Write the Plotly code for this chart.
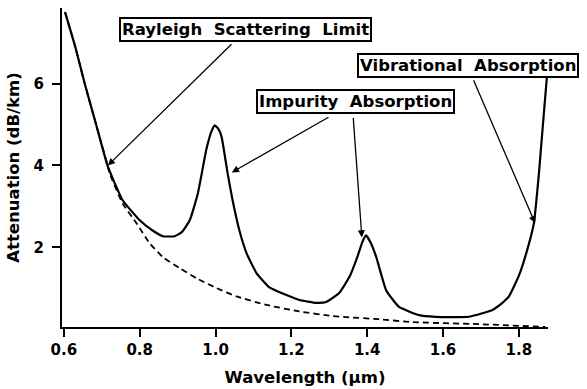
import plotly.graph_objects as go

# Total attenuation (solid)
wl_total = [0.603, 0.63, 0.655, 0.685, 0.716, 0.755, 0.80, 0.834, 0.861, 0.892, 0.911,
            0.932, 0.953, 0.976, 0.99, 0.998, 1.007, 1.016, 1.032, 1.045, 1.063, 1.082, 1.108, 1.142,
            1.187, 1.221, 1.266, 1.292, 1.326, 1.353, 1.374, 1.387, 1.397, 1.41, 1.424,
            1.45, 1.484, 1.537, 1.58, 1.668, 1.729, 1.755, 1.774, 1.80, 1.822, 1.84,
            1.853, 1.866, 1.874]
att_total = [7.75, 6.9, 6.0, 5.0, 3.97, 3.15, 2.66, 2.41, 2.27, 2.27, 2.37,
             2.66, 3.3, 4.4, 4.85, 4.98, 4.9, 4.7, 3.8, 3.15, 2.41, 1.85, 1.37, 1.02,
             0.83, 0.71, 0.64, 0.66, 0.88, 1.27, 1.76, 2.12, 2.29, 2.1, 1.76,
             0.95, 0.54, 0.34, 0.3, 0.3, 0.46, 0.63, 0.8, 1.3, 1.93, 2.6,
             3.8, 5.27, 6.15]

# Rayleigh scattering limit (dashed)
wl_rayleigh = [0.603, 0.63, 0.655, 0.685, 0.716, 0.721, 0.755, 0.792, 0.826, 0.861, 0.905,
               0.95, 1.003, 1.055, 1.134, 1.221, 1.308, 1.345, 1.432, 1.518, 1.695, 1.87]
att_rayleigh = [7.75, 6.9, 6.0, 5.0, 3.97, 3.8, 3.07, 2.58, 2.1, 1.76, 1.49,
                1.24, 1.0, 0.8, 0.59, 0.43, 0.32, 0.29, 0.24, 0.17, 0.12, 0.05]

x_ticks = [0.6, 0.8, 1.0, 1.2, 1.4, 1.6, 1.8]
x_ticklabels = ["0.6", "0.8", "1.0", "1.2", "1.4", "1.6", "1.8"]
y_ticks = [2, 4, 6]
y_ticklabels = ["2", "4", "6"]

# Labels: (text, box centre x, box centre y)
labels = [
    ("Rayleigh\u00a0\u00a0Scattering\u00a0\u00a0Limit", 1.079, 7.32),
    ("Impurity\u00a0\u00a0Absorption", 1.369, 5.56),
    ("Vibrational\u00a0\u00a0Absorption", 1.665, 6.45),
]
# Arrows: (head x, head y, tail x, tail y)
arrows = [
    (0.716, 4.0, 1.046, 7.0),
    (1.043, 3.83, 1.302, 5.2),
    (1.386, 2.24, 1.363, 5.2),
    (1.843, 2.59, 1.679, 6.12),
]

FONT = "DejaVu Sans"

fig = go.Figure()
fig.add_trace(go.Scatter(x=wl_rayleigh, y=att_rayleigh, mode="lines",
                         line=dict(color="black", width=1.8, dash="6px,4px",
                                   shape="spline", smoothing=0.5),
                         showlegend=False, hoverinfo="skip"))
fig.add_trace(go.Scatter(x=wl_total, y=att_total, mode="lines",
                         line=dict(color="black", width=2.2, shape="spline", smoothing=0.4),
                         showlegend=False, hoverinfo="skip"))

for text, cx, cy in labels:
    fig.add_annotation(x=cx, y=cy, xref="x", yref="y", text=text, showarrow=False,
                       font=dict(family=FONT, size=16.5, color="black", weight="bold"),
                       bordercolor="black", borderwidth=2, borderpad=1,
                       bgcolor="white")

for hx, hy, tx, ty in arrows:
    fig.add_annotation(x=hx, y=hy, xref="x", yref="y", ax=tx, ay=ty,
                       axref="x", ayref="y", text="", showarrow=True,
                       arrowhead=2, arrowsize=1.1, arrowwidth=1.3, arrowcolor="black",
                       standoff=0, startstandoff=0)

fig.update_layout(
    width=587, height=389,
    margin=dict(l=62, r=39, t=8, b=62, autoexpand=False),
    paper_bgcolor="white", plot_bgcolor="white",
    font=dict(family=FONT, color="black", size=15, weight="bold"),
)
fig.update_xaxes(range=[0.595, 1.877], tickvals=x_ticks, ticktext=x_ticklabels,
                 showline=True, linecolor="black", linewidth=2, mirror=False,
                 ticks="outside", ticklen=8, tickwidth=1.5, tickcolor="black",
                 showgrid=False, zeroline=False, automargin=False,
                 tickfont=dict(family=FONT, size=15, weight="bold"),
                 title=dict(text="Wavelength (\u03bcm)", standoff=13,
                            font=dict(family=FONT, size=16.5, weight="bold")))
fig.update_yaxes(range=[0.05, 7.85], tickvals=y_ticks, ticktext=y_ticklabels,
                 showline=True, linecolor="black", linewidth=2, mirror=False,
                 ticks="outside", ticklen=8, tickwidth=1.5, tickcolor="black",
                 showgrid=False, zeroline=False, ticklabelstandoff=5, automargin=False,
                 tickfont=dict(family=FONT, size=15, weight="bold"),
                 title=dict(text="Attenuation (dB/km)", standoff=10,
                            font=dict(family=FONT, size=16.5, weight="bold")))

fig.write_html("out.html", config={"displayModeBar": False},
               post_script="document.body.style.margin='0';")
